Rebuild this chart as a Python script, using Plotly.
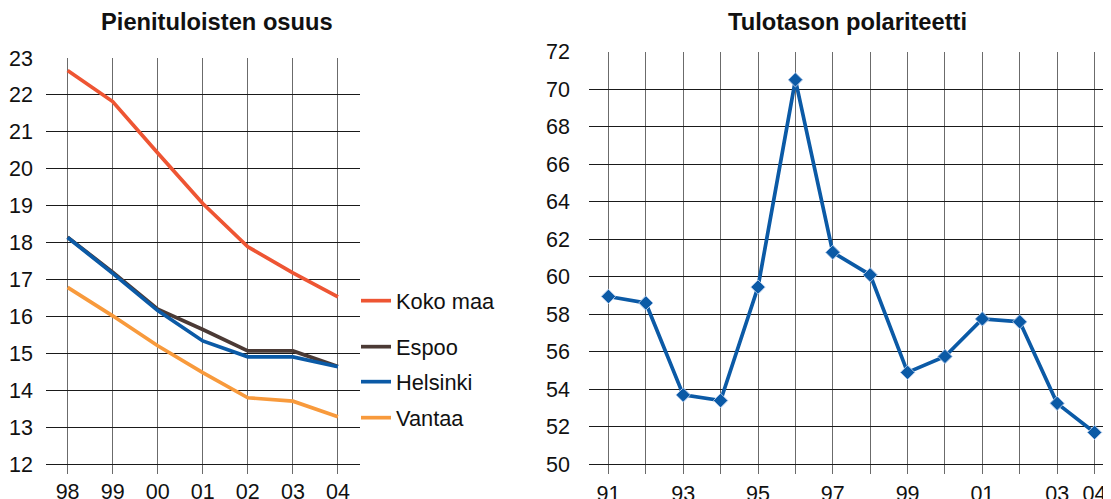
import plotly.graph_objects as go

# page body has an 8px margin: figure pixels = reference pixels - 8
OFF = 8
W, H = 1111 - OFF, 499 - OFF

# ---- data: left chart ----
years_left = ['98', '99', '00', '01', '02', '03', '04']
koko_maa = [22.66, 21.82, 20.43, 19.06, 17.89, 17.18, 16.53]
espoo = [18.15, 17.20, 16.20, 15.65, 15.07, 15.07, 14.65]
helsinki = [18.14, 17.17, 16.16, 15.34, 14.91, 14.91, 14.64]
vantaa = [16.79, 16.02, 15.21, 14.48, 13.80, 13.71, 13.29]

# ---- data: right chart ----
years_right = ['91', '92', '93', '94', '95', '96', '97', '98', '99', '00', '01', '02', '03', '04']
labels_right = ['91', '', '93', '', '95', '', '97', '', '99', '', '01', '', '03', '04']
polariteetti = [58.95, 58.6, 53.7, 53.4, 59.45, 70.5, 61.3, 60.1, 54.9, 55.75, 57.75, 57.6, 53.25, 51.7]

FONT = "Liberation Sans, Arial, sans-serif"
GRID_H = "#1a1a1a"
GRID_V = "#6b6b6b"


def px(x):
    return (x - OFF) / W


def py(y):
    return 1 - (y - OFF) / H


fig = go.Figure()

xl = list(range(len(years_left)))
series = [
    ("Koko maa", koko_maa, "#EE5533", "legend"),
    ("Espoo", espoo, "#4B3A35", "legend2"),
    ("Helsinki", helsinki, "#0B5AA6", "legend3"),
    ("Vantaa", vantaa, "#F89A3C", "legend4"),
]
for name, vals, col, lg in series:
    fig.add_trace(go.Scatter(
        x=xl, y=vals, name=name, mode="lines",
        line=dict(color=col, width=3.7),
        xaxis="x", yaxis="y", legend=lg,
    ))

xr = list(range(len(years_right)))
fig.add_trace(go.Scatter(
    x=xr, y=polariteetti, mode="lines+markers", showlegend=False,
    line=dict(color="#0B5AA6", width=3.7),
    marker=dict(symbol="diamond", size=11, color="#0B5AA6",
                line=dict(color="#A9C3E6", width=1)),
    xaxis="x2", yaxis="y2",
))

tickfont = dict(family=FONT, size=21.5, color="#111")

fig.update_layout(
    width=W, height=H,
    margin=dict(l=0, r=0, t=0, b=0, autoexpand=False),
    paper_bgcolor="white", plot_bgcolor="white",
    font=dict(family=FONT, color="#111"),
    xaxis=dict(
        domain=[px(46), px(360)], range=[-0.48, 6.49],
        tickvals=xl, ticktext=years_left, automargin=False,
        showgrid=True, gridcolor=GRID_V, gridwidth=1.3,
        ticks="outside", ticklen=9, tickcolor=GRID_V, tickwidth=1.3,
        showline=True, linecolor=GRID_H, linewidth=1.3,
        zeroline=False, tickfont=tickfont, ticklabelstandoff=-1,
    ),
    yaxis=dict(
        domain=[py(464.3), py(58)], range=[12, 23],
        dtick=1, showgrid=True, gridcolor=GRID_H, gridwidth=1.3,
        zeroline=False, showline=False, ticks="", automargin=False,
        tickfont=tickfont, ticklabelstandoff=12,
    ),
    xaxis2=dict(
        domain=[px(589), 1.0], range=[-0.52, 13.44],
        tickvals=xr, ticktext=labels_right, automargin=False,
        showgrid=True, gridcolor=GRID_V, gridwidth=1.3,
        ticks="outside", ticklen=9, tickcolor=GRID_V, tickwidth=1.3,
        showline=True, linecolor=GRID_H, linewidth=1.3,
        zeroline=False, tickfont=tickfont, ticklabelstandoff=1, anchor="y2",
    ),
    yaxis2=dict(
        domain=[py(464.3), py(51.7)], range=[50, 72],
        dtick=2, showgrid=True, gridcolor=GRID_H, gridwidth=1.3,
        zeroline=False, showline=False, ticks="", automargin=False,
        tickfont=tickfont, ticklabelstandoff=18, anchor="x2",
    ),
    annotations=[
        dict(text="<b>Pienituloisten osuus</b>", x=px(217), y=py(22),
             xref="paper", yref="paper", xanchor="center", yanchor="middle",
             showarrow=False, font=dict(family=FONT, size=23.7, color="#111")),
        dict(text="<b>Tulotason polariteetti</b>", x=px(847), y=py(22),
             xref="paper", yref="paper", xanchor="center", yanchor="middle",
             showarrow=False, font=dict(family=FONT, size=23.7, color="#111")),
    ],
)

legend_y = {"legend": 301, "legend2": 347, "legend3": 382, "legend4": 418}
for lg, ypix in legend_y.items():
    fig.update_layout({lg: dict(
        x=px(356), y=py(ypix), xanchor="left", yanchor="middle",
        bgcolor="rgba(0,0,0,0)", borderwidth=0,
        font=dict(family=FONT, size=21.8, color="#111"),
        itemwidth=30,
    )})

fig.write_html("out.html")
